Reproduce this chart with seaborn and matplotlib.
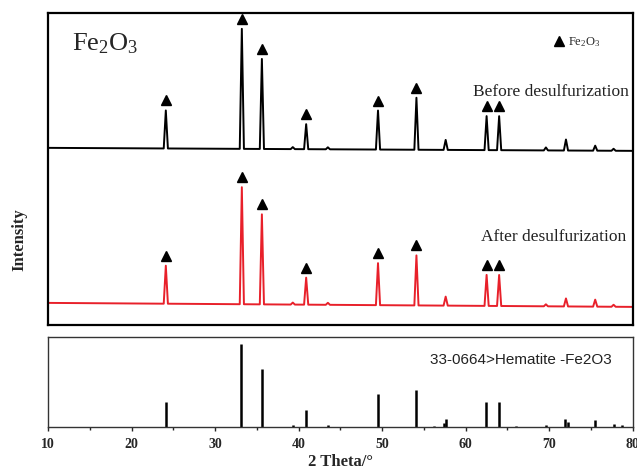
import pandas as pd
import seaborn as sns
import matplotlib
matplotlib.use("Agg")
import matplotlib.pyplot as plt
from matplotlib.lines import Line2D
from matplotlib.ticker import MultipleLocator

# peak positions (2 theta) seen in the two measured patterns
peak_pos = [24.1, 33.2, 35.6, 39.3, 40.9, 43.5, 49.5, 54.1, 57.6, 62.5, 64.0, 69.6, 72.0, 75.5, 77.7]
before_height = [38, 120, 90, 2, 25, 2, 39, 52, 10, 34, 34, 3, 11, 5, 2]
after_height = [38, 117, 90, 2, 27, 2, 42, 50, 9, 31, 31, 2, 8, 7, 2]
before_base = (177, 174)   # baseline at 10 and 80 deg
after_base = (22, 18)

# peaks marked as Fe2O3
marked_pos = [24.1, 33.2, 35.6, 40.9, 49.5, 54.1, 62.5, 64.0]

# standard card 33-0664 hematite
ref_pos = [24.14, 33.15, 35.61, 39.28, 40.85, 43.52, 49.48, 54.09, 56.15, 57.43, 57.59,
           62.45, 64.01, 66.03, 69.60, 71.94, 72.26, 75.43, 77.73, 78.76]
ref_int = [30, 100, 70, 3, 20, 3, 40, 45, 1, 5, 10, 30, 30, 1, 3, 10, 6, 8, 4, 2]

xticks = [10, 20, 30, 40, 50, 60, 70, 80]

HALF_W = 0.25


def pattern(pos, heights, base):
    # line through baseline and peak apexes
    def b(x):
        return base[0] + (base[1] - base[0]) * (x - 10) / 70
    xs, ys = [10], [b(10)]
    for p, h in zip(pos, heights):
        xs += [p - HALF_W, p, p + HALF_W]
        ys += [b(p - HALF_W), b(p) + h, b(p + HALF_W)]
    xs.append(80)
    ys.append(b(80))
    return pd.DataFrame({"two_theta": xs, "intensity": ys})


before = pattern(peak_pos, before_height, before_base)
after = pattern(peak_pos, after_height, after_base)

sns.set_style("white")
plt.rcParams["font.family"] = ["Liberation Serif", "DejaVu Serif"]
plt.rcParams["mathtext.fontset"] = "custom"
plt.rcParams["mathtext.rm"] = "Liberation Serif"
plt.rcParams["mathtext.it"] = "Liberation Serif:italic"
plt.rcParams["mathtext.bf"] = "Liberation Serif:bold"

fig = plt.figure(figsize=(6.37, 4.75), dpi=100)
ax = fig.add_axes([0.0754, 0.316, 0.918, 0.657])
ax2 = fig.add_axes([0.0754, 0.101, 0.918, 0.189])

sns.lineplot(data=before, x="two_theta", y="intensity", color="black", lw=1.4,
             estimator=None, sort=False, ax=ax)
sns.lineplot(data=after, x="two_theta", y="intensity", color="#e8202a", lw=1.4,
             estimator=None, sort=False, ax=ax)

# triangles over marked peaks
for pos, hts, base in [(peak_pos, before_height, before_base),
                       (peak_pos, after_height, after_base)]:
    mx, my = [], []
    for p in marked_pos:
        i = pos.index(p)
        mx.append(p)
        my.append(base[0] + (base[1] - base[0]) * (p - 10) / 70 + hts[i] + 10)
    ax.plot(mx, my, ls="none", marker="^", color="black", ms=7.5)

ax.set_xlim(10, 80)
ax.set_ylim(0, 312)
ax.set_xticks([])
ax.set_yticks([])
ax.set_xlabel("")
ax.set_ylabel("")
for s in ax.spines.values():
    s.set_color("black")
    s.set_linewidth(1.6)

ax.text(0.041, 0.881, "Fe$_2$O$_3$", transform=ax.transAxes, fontsize=19,
        ha="left", va="baseline")
ax.text(0.993, 0.747, "Before desulfurization", transform=ax.transAxes, fontsize=12.5,
        ha="right", va="center", color="#222222")
ax.text(0.988, 0.282, "After desulfurization", transform=ax.transAxes, fontsize=12.5,
        ha="right", va="center", color="#222222")
handle = Line2D([], [], ls="none", marker="^", color="black", ms=7.5)
ax.legend([handle], ["Fe$_2$O$_3$"], loc="center left", bbox_to_anchor=(0.855, 0.905),
          frameon=False, fontsize=9, handletextpad=0.2, handlelength=1.0,
          borderaxespad=0)

# standard sticks
ax2.vlines(ref_pos, 0, ref_int, color="black", lw=1.8)
ax2.set_xlim(10, 80)
ax2.set_ylim(0, 108.4)
ax2.set_yticks([])
ax2.set_xticks(xticks)
ax2.xaxis.set_minor_locator(MultipleLocator(5))
ax2.tick_params(axis="x", which="major", bottom=True, direction="out", length=3,
                width=1, labelsize=10, pad=5)
ax2.tick_params(axis="x", which="minor", bottom=True, direction="out", length=2, width=1)
for lab in ax2.get_xticklabels():
    lab.set_fontweight("bold")
for s in ax2.spines.values():
    s.set_color("#333333")
    s.set_linewidth(1.0)
ax2.text(0.964, 0.744, "33-0664>Hematite -Fe2O3", transform=ax2.transAxes,
         fontsize=11, ha="right", va="center", family="Liberation Sans", color="#222222")
ax2.set_xlabel("2 Theta/°", fontsize=12, fontweight="bold", labelpad=2)

fig.text(0.031, 0.495, "Intensity", rotation=90, fontsize=12, fontweight="bold",
         ha="center", va="center")

plt.savefig("out.png", dpi=100)
